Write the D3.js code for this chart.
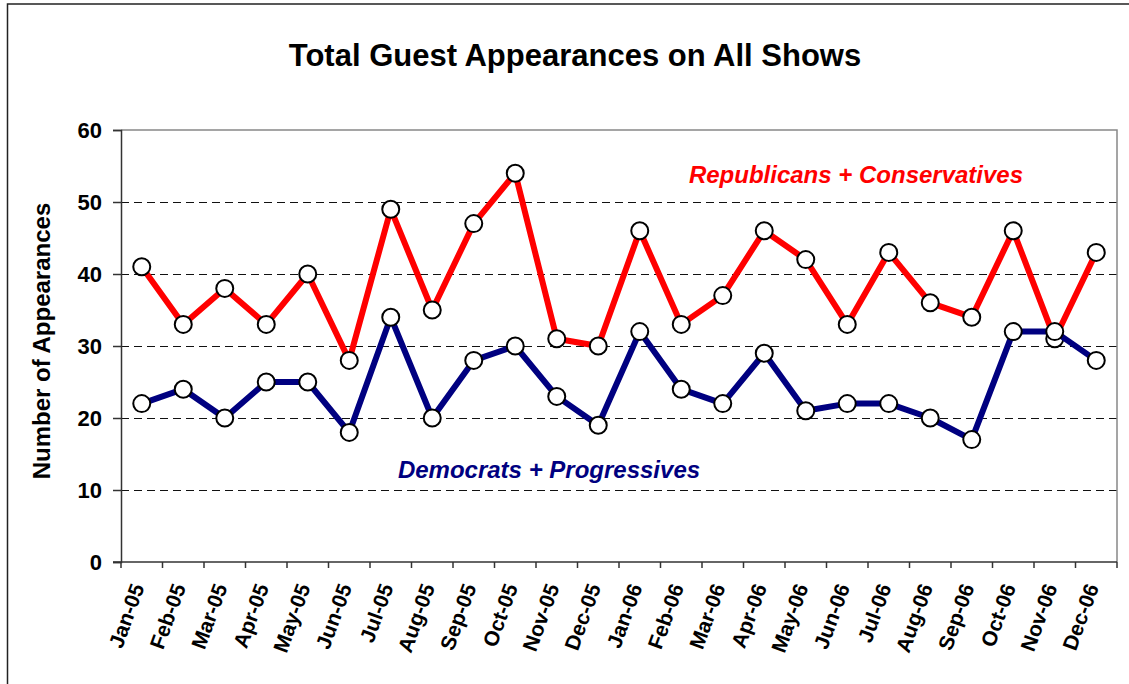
<!DOCTYPE html>
<html>
<head>
<meta charset="utf-8">
<script src="https://cdn.jsdelivr.net/npm/d3@7"></script>
<style>
  body { margin: 0; background: #fff; }
  svg { display: block; font-family: Arial, "Liberation Sans", sans-serif; }
</style>
</head>
<body>
<div id="chart"></div>
<script>
// months on the x axis
const months = ["Jan-05","Feb-05","Mar-05","Apr-05","May-05","Jun-05","Jul-05","Aug-05","Sep-05","Oct-05","Nov-05","Dec-05",
                "Jan-06","Feb-06","Mar-06","Apr-06","May-06","Jun-06","Jul-06","Aug-06","Sep-06","Oct-06","Nov-06","Dec-06"];

// Republicans + Conservatives
const repValues = [41,33,38,33,40,28,49,35,47,54,31,30, 46,33,37,46,42,33,43,36,34,46,31,43];

// Democrats + Progressives
const demValues = [22,24,20,25,25,18,34,20,28,30,23,19, 32,24,22,29,21,22,22,20,17,32,32,28];

const yTicks = [0,10,20,30,40,50,60];

const width = 1129, height = 684;
const margin = {left: 121, right: 1117, top: 130, bottom: 562};

const svg = d3.select("#chart").append("svg")
    .attr("width", width)
    .attr("height", height);

// outer frame of the chart (right and bottom edges fall outside the picture)
svg.append("rect")
    .attr("x", 7.5).attr("y", 4)
    .attr("width", 1140).attr("height", 700)
    .attr("fill", "none")
    .attr("stroke", "#222")
    .attr("stroke-width", 1.5);

const x = d3.scaleBand()
    .domain(months)
    .range([margin.left, margin.right]);

const y = d3.scaleLinear()
    .domain([0, 60])
    .range([margin.bottom, margin.top]);

// title
svg.append("text")
    .attr("x", 575).attr("y", 66)
    .attr("text-anchor", "middle")
    .attr("font-size", "31px")
    .attr("font-weight", "bold")
    .text("Total Guest Appearances on All Shows");

// dashed gridlines (10..50)
svg.append("g")
    .selectAll("line")
    .data(yTicks.filter(d => d > 0 && d < 60))
    .join("line")
    .attr("x1", margin.left).attr("x2", margin.right)
    .attr("y1", d => y(d) + 0.5).attr("y2", d => y(d) + 0.5)
    .attr("stroke", "#111")
    .attr("stroke-width", 1)
    .attr("shape-rendering", "crispEdges")
    .attr("stroke-dasharray", "8,5");

// plot area border top and right
svg.append("path")
    .attr("d", `M${margin.left},${y(60)}H${margin.right}V${y(0)}`)
    .attr("fill", "none")
    .attr("stroke", "#888")
    .attr("stroke-width", 1.5);

// y axis
const yAxis = svg.append("g")
    .attr("transform", `translate(${margin.left},0)`)
    .call(d3.axisLeft(y).tickValues(yTicks).tickSize(8).tickPadding(11));
yAxis.select(".domain").attr("stroke", "#333").attr("stroke-width", 1.5);
yAxis.selectAll(".tick line").attr("stroke", "#333").attr("stroke-width", 1.5);
yAxis.selectAll(".tick text")
    .attr("font-size", "22px")
    .attr("font-weight", "bold")
    .attr("font-family", "Arial, 'Liberation Sans', sans-serif")
    .attr("fill", "#000");

// x axis: ticks between the categories
const xAxis = svg.append("g")
    .attr("transform", `translate(0,${margin.bottom})`);
xAxis.append("line")
    .attr("x1", margin.left - 8).attr("x2", margin.right)
    .attr("stroke", "#333").attr("stroke-width", 1.5);
xAxis.selectAll("line.tick")
    .data(months.concat(["end"]))
    .join("line")
    .attr("class", "tick")
    .attr("x1", (d, i) => i < months.length ? x(d) : margin.right)
    .attr("x2", (d, i) => i < months.length ? x(d) : margin.right)
    .attr("y1", 0).attr("y2", 6)
    .attr("stroke", "#333").attr("stroke-width", 1.5);
xAxis.selectAll("text")
    .data(months)
    .join("text")
    .attr("transform", d => `translate(${x(d) + x.bandwidth() / 2 + 3},${25}) rotate(-70)`)
    .attr("text-anchor", "end")
    .attr("font-size", "21px")
    .attr("font-weight", "bold")
    .text(d => d);

// y axis title
svg.append("text")
    .attr("transform", `translate(50,341) rotate(-90)`)
    .attr("text-anchor", "middle")
    .attr("font-size", "24px")
    .attr("font-weight", "bold")
    .text("Number of Appearances");

const line = d3.line()
    .x((d, i) => x(months[i]) + x.bandwidth() / 2)
    .y(d => y(d));

function drawSeries(values, color) {
    svg.append("path")
        .datum(values)
        .attr("d", line)
        .attr("fill", "none")
        .attr("stroke", color)
        .attr("stroke-width", 6)
        .attr("stroke-linejoin", "round");
    svg.append("g")
        .selectAll("circle")
        .data(values)
        .join("circle")
        .attr("cx", (d, i) => x(months[i]) + x.bandwidth() / 2)
        .attr("cy", d => y(d))
        .attr("r", 8.5)
        .attr("fill", "#fff")
        .attr("stroke", "#000")
        .attr("stroke-width", 2);
}

drawSeries(repValues, "#ff0000");
drawSeries(demValues, "#000080");

// series labels
svg.append("text")
    .attr("x", 856).attr("y", 183)
    .attr("text-anchor", "middle")
    .attr("font-size", "24px")
    .attr("font-weight", "bold")
    .attr("font-style", "italic")
    .attr("fill", "#ff0000")
    .text("Republicans + Conservatives");

svg.append("text")
    .attr("x", 549).attr("y", 478)
    .attr("text-anchor", "middle")
    .attr("font-size", "24px")
    .attr("font-weight", "bold")
    .attr("font-style", "italic")
    .attr("fill", "#000080")
    .text("Democrats + Progressives");
</script>
</body>
</html>
